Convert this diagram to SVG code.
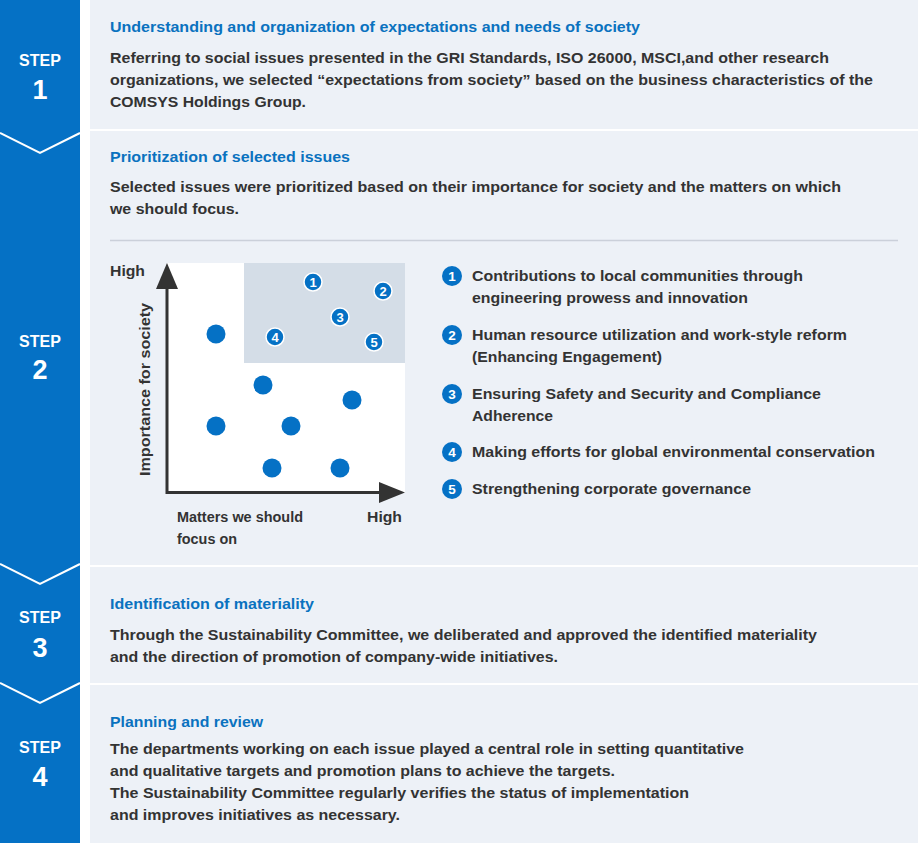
<svg xmlns="http://www.w3.org/2000/svg" width="918" height="843" viewBox="0 0 918 843">
<style>
text{font-family:"Liberation Sans",Arial,sans-serif;font-weight:bold}
.panel{fill:#edf1f7}
.bar{fill:#0571c5}
.step{fill:#fff;font-size:16px;text-anchor:middle}
.num{fill:#fff;font-size:27px;text-anchor:middle}
.title{fill:#0a72bf;font-size:15px}
.body{fill:#333;font-size:15px}
.lab{fill:#333;font-size:14.5px}
.dot{fill:#0571c5}
.nc{fill:#0571c5;stroke:#fff;stroke-width:1.5}
.nt{fill:#fff;font-size:13px;text-anchor:middle}
.lc{fill:#0571c5}
.lt{fill:#fff;font-size:13.5px;text-anchor:middle}
.chev{fill:none;stroke:#fff;stroke-width:2}
.axis{stroke:#333;stroke-width:3;fill:none}
</style>
<rect width="918" height="843" fill="#fff"/>
<rect class="bar" x="0" y="0" width="80" height="843"/>

<g id="step1">
<rect class="panel" x="90" y="0" width="828" height="129"/>
<text class="step" x="40" y="66">STEP</text>
<text class="num" x="40" y="99">1</text>
<text class="title" x="110" y="32" textLength="530" lengthAdjust="spacingAndGlyphs">Understanding and organization of expectations and needs of society</text>
<text class="body" x="110" y="63" textLength="719" lengthAdjust="spacingAndGlyphs">Referring to social issues presented in the GRI Standards, ISO 26000, MSCI,and other research</text>
<text class="body" x="110" y="85" textLength="763" lengthAdjust="spacingAndGlyphs">organizations, we selected “expectations from society” based on the business characteristics of the</text>
<text class="body" x="110" y="107" textLength="196" lengthAdjust="spacingAndGlyphs">COMSYS Holdings Group.</text>
</g>

<g id="step2">
<rect class="panel" x="90" y="131" width="828" height="434"/>
<text class="step" x="40" y="347">STEP</text>
<text class="num" x="40" y="379">2</text>
<text class="title" x="110" y="162" textLength="240" lengthAdjust="spacingAndGlyphs">Prioritization of selected issues</text>
<text class="body" x="110" y="192" textLength="731" lengthAdjust="spacingAndGlyphs">Selected issues were prioritized based on their importance for society and the matters on which</text>
<text class="body" x="110" y="214" textLength="129" lengthAdjust="spacingAndGlyphs">we should focus.</text>
<line x1="110" y1="240.5" x2="898" y2="240.5" stroke="#cbd0da" stroke-width="1.5"/>
</g>

<g id="chart">
<rect x="167" y="263" width="238" height="230" fill="#fff"/>
<rect x="244" y="263" width="161" height="100" fill="#d4dde7"/>
<path class="axis" d="M167 285 V492.5 H382"/>
<polygon points="167,263 156,289 178,289" fill="#333"/>
<polygon points="405,492.5 379,482 379,503" fill="#333"/>
<text class="lab" x="110" y="276" textLength="35" lengthAdjust="spacingAndGlyphs">High</text>
<text class="lab" x="367" y="522" textLength="35" lengthAdjust="spacingAndGlyphs">High</text>
<text class="lab" x="177" y="522" textLength="126" lengthAdjust="spacingAndGlyphs">Matters we should</text>
<text class="lab" x="177" y="544" textLength="60" lengthAdjust="spacingAndGlyphs">focus on</text>
<text class="lab" transform="translate(150,476) rotate(-90)" x="0" y="0" textLength="173" lengthAdjust="spacingAndGlyphs">Importance for society</text>
<circle class="dot" cx="216" cy="334" r="9.5"/>
<circle class="dot" cx="263" cy="385" r="9.5"/>
<circle class="dot" cx="352" cy="400" r="9.5"/>
<circle class="dot" cx="216" cy="426" r="9.5"/>
<circle class="dot" cx="291" cy="426" r="9.5"/>
<circle class="dot" cx="272" cy="468" r="9.5"/>
<circle class="dot" cx="340" cy="468" r="9.5"/>
<g id="c1"><circle class="nc" cx="313" cy="282" r="9"/><text class="nt" x="313" y="286.6">1</text></g>
<g id="c2"><circle class="nc" cx="383" cy="291" r="9"/><text class="nt" x="383" y="295.6">2</text></g>
<g id="c3"><circle class="nc" cx="340" cy="317" r="9"/><text class="nt" x="340" y="321.6">3</text></g>
<g id="c4"><circle class="nc" cx="275" cy="337" r="9"/><text class="nt" x="275" y="341.6">4</text></g>
<g id="c5"><circle class="nc" cx="374" cy="342" r="9"/><text class="nt" x="374" y="346.6">5</text></g>
</g>

<g id="legend">
<g id="item1"><circle class="lc" cx="452" cy="276" r="10"/><text class="lt" x="452" y="280.8">1</text>
<text class="body" x="472" y="281" textLength="331" lengthAdjust="spacingAndGlyphs">Contributions to local communities through</text>
<text class="body" x="472" y="303" textLength="276" lengthAdjust="spacingAndGlyphs">engineering prowess and innovation</text></g>
<g id="item2"><circle class="lc" cx="452" cy="335" r="10"/><text class="lt" x="452" y="339.8">2</text>
<text class="body" x="472" y="340" textLength="375" lengthAdjust="spacingAndGlyphs">Human resource utilization and work-style reform</text>
<text class="body" x="472" y="362" textLength="190" lengthAdjust="spacingAndGlyphs">(Enhancing Engagement)</text></g>
<g id="item3"><circle class="lc" cx="452" cy="394" r="10"/><text class="lt" x="452" y="398.8">3</text>
<text class="body" x="472" y="399" textLength="349" lengthAdjust="spacingAndGlyphs">Ensuring Safety and Security and Compliance</text>
<text class="body" x="472" y="421" textLength="81" lengthAdjust="spacingAndGlyphs">Adherence</text></g>
<g id="item4"><circle class="lc" cx="452" cy="452" r="10"/><text class="lt" x="452" y="456.8">4</text>
<text class="body" x="472" y="457" textLength="403" lengthAdjust="spacingAndGlyphs">Making efforts for global environmental conservation</text></g>
<g id="item5"><circle class="lc" cx="452" cy="489" r="10"/><text class="lt" x="452" y="493.8">5</text>
<text class="body" x="472" y="494" textLength="279" lengthAdjust="spacingAndGlyphs">Strengthening corporate governance</text></g>
</g>

<g id="step3">
<rect class="panel" x="90" y="567" width="828" height="116"/>
<text class="step" x="40" y="623">STEP</text>
<text class="num" x="40" y="657">3</text>
<text class="title" x="110" y="609" textLength="204" lengthAdjust="spacingAndGlyphs">Identification of materiality</text>
<text class="body" x="110" y="640" textLength="707" lengthAdjust="spacingAndGlyphs">Through the Sustainability Committee, we deliberated and approved the identified materiality</text>
<text class="body" x="110" y="662" textLength="448" lengthAdjust="spacingAndGlyphs">and the direction of promotion of company-wide initiatives.</text>
</g>

<g id="step4">
<rect class="panel" x="90" y="685" width="828" height="158"/>
<text class="step" x="40" y="753">STEP</text>
<text class="num" x="40" y="786">4</text>
<text class="title" x="110" y="727" textLength="153" lengthAdjust="spacingAndGlyphs">Planning and review</text>
<text class="body" x="110" y="754" textLength="634" lengthAdjust="spacingAndGlyphs">The departments working on each issue played a central role in setting quantitative</text>
<text class="body" x="110" y="776" textLength="505" lengthAdjust="spacingAndGlyphs">and qualitative targets and promotion plans to achieve the targets.</text>
<text class="body" x="110" y="798" textLength="579" lengthAdjust="spacingAndGlyphs">The Sustainability Committee regularly verifies the status of implementation</text>
<text class="body" x="110" y="820" textLength="290" lengthAdjust="spacingAndGlyphs">and improves initiatives as necessary.</text>
</g>

<g id="connectors">
<polyline class="chev" points="0,133 40,153 80,133"/>
<polyline class="chev" points="0,564 40,584 80,564"/>
<polyline class="chev" points="0,683 40,703 80,683"/>
</g>
</svg>
